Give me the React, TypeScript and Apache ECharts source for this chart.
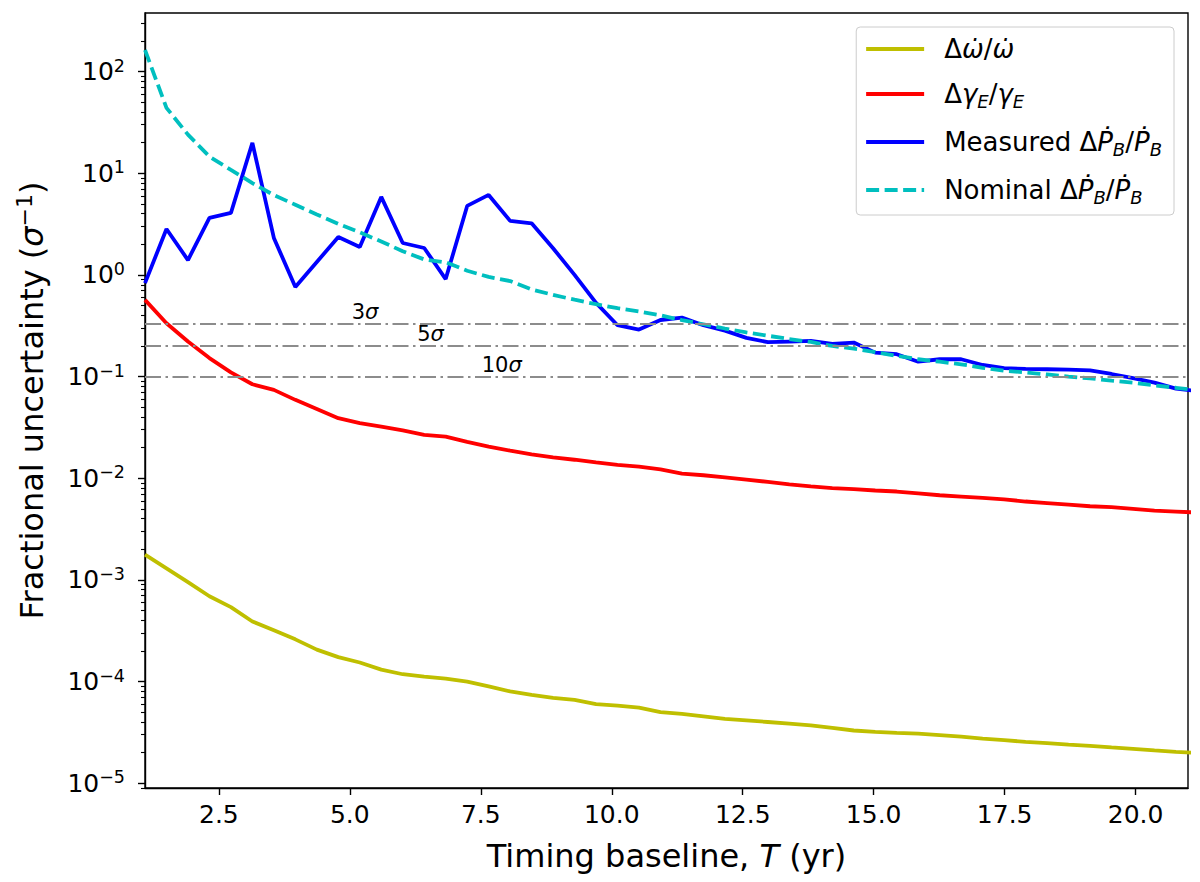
import React, { useEffect, useRef } from 'react';
import * as echarts from 'echarts';

// timing baseline T (yr)
const T = [
  1.09, 1.5, 1.91, 2.32, 2.73, 3.14, 3.55, 3.96, 4.37, 4.78,
  5.19, 5.6, 6.01, 6.42, 6.83, 7.24, 7.65, 8.06, 8.47, 8.88,
  9.29, 9.7, 10.11, 10.52, 10.93, 11.34, 11.75, 12.16, 12.57, 12.98,
  13.39, 13.8, 14.21, 14.62, 15.03, 15.44, 15.85, 16.26, 16.67, 17.08,
  17.49, 17.9, 18.31, 18.72, 19.13, 19.54, 19.95, 20.36, 20.77, 21.18,
];

const omegaDot = [
  1.77e-3, 1.3e-3, 9.5e-4, 6.9e-4, 5.4e-4, 3.9e-4, 3.2e-4, 2.6e-4, 2.06e-4, 1.74e-4,
  1.54e-4, 1.31e-4, 1.18e-4, 1.12e-4, 1.07e-4, 1.0e-4, 8.95e-5, 8.0e-5, 7.4e-5, 6.9e-5,
  6.6e-5, 6.0e-5, 5.8e-5, 5.55e-5, 5.0e-5, 4.8e-5, 4.55e-5, 4.3e-5, 4.15e-5, 4.0e-5,
  3.85e-5, 3.7e-5, 3.5e-5, 3.3e-5, 3.2e-5, 3.13e-5, 3.07e-5, 2.97e-5, 2.87e-5, 2.75e-5,
  2.65e-5, 2.55e-5, 2.48e-5, 2.4e-5, 2.33e-5, 2.25e-5, 2.18e-5, 2.1e-5, 2.03e-5, 1.98e-5,
];

const gammaE = [
  0.568, 0.335, 0.221, 0.152, 0.11, 0.084, 0.074, 0.059, 0.048, 0.039,
  0.0348, 0.0322, 0.0295, 0.0267, 0.0257, 0.0228, 0.0205, 0.0187, 0.0172, 0.016,
  0.0152, 0.0143, 0.0135, 0.013, 0.0122, 0.0111, 0.0107, 0.0102, 0.0097, 0.0092,
  0.0087, 0.0083, 0.008, 0.0078, 0.00757, 0.0074, 0.0071, 0.0068, 0.0066, 0.0064,
  0.0062, 0.0059, 0.0057, 0.0055, 0.0053, 0.0052, 0.005, 0.0048, 0.0047, 0.0046,
];

const pbdotMeasured = [
  0.83, 2.83, 1.4, 3.64, 4.07, 19.9, 2.31, 0.76, 1.34, 2.36,
  1.88, 5.85, 2.06, 1.84, 0.91, 4.77, 6.12, 3.4, 3.22, 1.83,
  1.0, 0.53, 0.32, 0.29, 0.36, 0.38, 0.32, 0.283, 0.24, 0.218,
  0.221, 0.224, 0.21, 0.216, 0.172, 0.166, 0.14, 0.148, 0.148, 0.13,
  0.121, 0.119, 0.118, 0.117, 0.115, 0.106, 0.0964, 0.0873, 0.076, 0.072,
];

const pbdotNominal = [
  163, 44, 24, 14.6, 10.8, 8.0, 6.1, 4.9, 3.93, 3.18,
  2.62, 2.13, 1.71, 1.42, 1.33, 1.1, 0.955, 0.87, 0.72, 0.636,
  0.57, 0.515, 0.47, 0.436, 0.4, 0.359, 0.327, 0.297, 0.272, 0.252,
  0.234, 0.219, 0.2, 0.188, 0.174, 0.16, 0.148, 0.14, 0.132, 0.122,
  0.114, 0.11, 0.105, 0.1, 0.096, 0.091, 0.087, 0.082, 0.0776, 0.073,
];

const sigmaLevels = [1 / 3, 1 / 5, 1 / 10];
const sigmaNames = ['3', '5', '10'];
const sigmaLabelT = [5.29, 6.54, 7.9];

const xTicks = [2.5, 5, 7.5, 10, 12.5, 15, 17.5, 20];
const yTicks = [1e-5, 1e-4, 1e-3, 1e-2, 1e-1, 1, 10, 100];
const yMinorTicks: number[] = [];
[1e-6, 1e-5, 1e-4, 1e-3, 1e-2, 1e-1, 1, 10, 100].forEach((d) => {
  [2, 3, 4, 5, 6, 7, 8, 9].forEach((m) => yMinorTicks.push(+(m * d).toPrecision(3)));
});

const FONT = 'DejaVu Sans';
const Y_MIN = 8.97e-6;
const Y_MAX = 377;
const LW = 3.8;

const legendText: Record<string, string> = {
  omega: '{g| }{n|Δ}{i|ω̇}{n|/}{i|ω̇}',
  gamma: '{g| }{n|Δ}{i|γ}{sub|E}{n|/}{i|γ}{sub|E}',
  measured: '{g| }{n|Measured Δ}{i|Ṗ}{sub|B}{n|/}{i|Ṗ}{sub|B}',
  nominal: '{g| }{n|Nominal Δ}{i|Ṗ}{sub|B}{n|/}{i|Ṗ}{sub|B}',
};

const App: React.FC = () => {
  const chartRef = useRef<HTMLDivElement>(null);

  useEffect(() => {
    document.body.style.margin = '0';
    if (!chartRef.current) return;
    const chart = echarts.init(chartRef.current, undefined, { renderer: 'svg' });

    const line = (arr: number[]) => arr.map((v, i) => [T[i], v]);
    const axisLineStyle = { color: '#000', width: 1.4 };

    chart.setOption({
      animation: false,
      textStyle: { fontFamily: FONT },
      grid: {
        left: 145,
        right: 12,
        top: 13,
        bottom: 94,
        show: true,
        borderColor: '#000',
        borderWidth: 1.4,
        backgroundColor: 'transparent',
      },
      legend: {
        orient: 'vertical',
        right: 26,
        top: 27,
        backgroundColor: '#fff',
        borderColor: '#cccccc',
        borderWidth: 1,
        borderRadius: 4,
        padding: [9, 12, 9, 8],
        itemGap: 19,
        itemWidth: 58,
        itemHeight: 14,
        itemStyle: { opacity: 0 },
        lineStyle: { width: LW },
        data: ['omega', 'gamma', 'measured', 'nominal'],
        formatter: (name: string) => legendText[name],
        textStyle: {
          color: '#000',
          rich: {
            g: { width: 15, fontSize: 26 },
            n: { fontSize: 26, fontFamily: FONT, color: '#000', lineHeight: 32 },
            i: { fontSize: 26, fontFamily: FONT, fontStyle: 'italic', color: '#000', lineHeight: 32 },
            sub: {
              fontSize: 18,
              fontFamily: FONT,
              fontStyle: 'italic',
              color: '#000',
              verticalAlign: 'bottom',
              lineHeight: 17,
            },
          },
        },
      },
      xAxis: {
        type: 'value',
        min: 1.09,
        max: 21,
        name: '{n|Timing baseline, }{i|T}{n| (yr)}',
        nameLocation: 'middle',
        nameGap: 52,
        nameTextStyle: {
          rich: {
            n: { fontSize: 32, fontFamily: FONT, color: '#000' },
            i: { fontSize: 32, fontFamily: FONT, fontStyle: 'italic', color: '#000' },
          },
        },
        axisLine: { lineStyle: axisLineStyle },
        axisTick: { customValues: xTicks, length: 7, lineStyle: axisLineStyle },
        axisLabel: {
          customValues: xTicks,
          formatter: (v: number) => v.toFixed(1),
          fontSize: 25,
          color: '#000',
          margin: 14,
        },
        splitLine: { show: false },
      },
      yAxis: [
        {
          type: 'log',
          min: Y_MIN,
          max: Y_MAX,
          position: 'left',
          name: '{n|Fractional uncertainty (}{i|σ}{sup|−1}{n|)}',
          nameLocation: 'middle',
          nameGap: 94,
          nameRotate: 90,
          nameTextStyle: {
            rich: {
              n: { fontSize: 32, fontFamily: FONT, color: '#000', lineHeight: 38 },
              i: { fontSize: 32, fontFamily: FONT, fontStyle: 'italic', color: '#000', lineHeight: 38 },
              sup: { fontSize: 22, fontFamily: FONT, color: '#000', verticalAlign: 'top', lineHeight: 22 },
            },
          },
          axisLine: { show: true, lineStyle: axisLineStyle },
          axisTick: { show: true, customValues: yTicks, length: 7, lineStyle: axisLineStyle },
          axisLabel: {
            customValues: yTicks,
            margin: 20,
            formatter: (v: number) => {
              const e = Math.round(Math.log10(v));
              return `{b|10}{sup|${e < 0 ? '−' + -e : e}}`;
            },
            rich: {
              b: { fontSize: 25, fontFamily: FONT, color: '#000', lineHeight: 30 },
              sup: { fontSize: 17.5, fontFamily: FONT, color: '#000', verticalAlign: 'top', lineHeight: 15 },
            },
          },
          splitLine: { show: false },
        },
        {
          type: 'log',
          min: Y_MIN,
          max: Y_MAX,
          position: 'left',
          axisLine: { show: false },
          axisTick: { show: true, customValues: yMinorTicks, length: 4, lineStyle: { color: '#000', width: 1.1 } },
          axisLabel: { show: false },
          splitLine: { show: false },
        },
      ],
      series: [
        {
          name: 'omega',
          type: 'line',
          data: line(omegaDot),
          symbol: 'none',
          lineStyle: { color: '#bfbf00', width: LW },
          itemStyle: { color: '#bfbf00' },
          markLine: {
            silent: true,
            symbol: 'none',
            label: { show: false },
            lineStyle: { color: '#8c8c8c', width: 2.2, type: [16, 4.5, 2.5, 4.5] },
            data: sigmaLevels.map((v) => ({ yAxis: v })),
          },
          markPoint: {
            silent: true,
            symbol: 'circle',
            symbolSize: 0,
            label: {
              show: true,
              position: 'top',
              distance: 1,
              formatter: (p: any) => `{n|${p.name}}{i|σ}`,
              rich: {
                n: { fontSize: 21, fontFamily: FONT, color: '#000' },
                i: { fontSize: 21, fontFamily: FONT, fontStyle: 'italic', color: '#000' },
              },
            },
            data: sigmaLevels.map((v, k) => ({ name: sigmaNames[k], coord: [sigmaLabelT[k], v] })),
          },
        },
        {
          name: 'gamma',
          type: 'line',
          data: line(gammaE),
          symbol: 'none',
          lineStyle: { color: '#ff0000', width: LW },
          itemStyle: { color: '#ff0000' },
        },
        {
          name: 'measured',
          type: 'line',
          data: line(pbdotMeasured),
          symbol: 'none',
          lineStyle: { color: '#0000ff', width: LW },
          itemStyle: { color: '#0000ff' },
        },
        {
          name: 'nominal',
          type: 'line',
          data: line(pbdotNominal),
          symbol: 'none',
          lineStyle: { color: '#00bfbf', width: LW, type: [13, 5.5] },
          itemStyle: { color: '#00bfbf' },
        },
      ],
    });

    return () => {
      chart.dispose();
    };
  }, []);

  return <div ref={chartRef} style={{ width: 1200, height: 882 }} />;
};

export default App;
